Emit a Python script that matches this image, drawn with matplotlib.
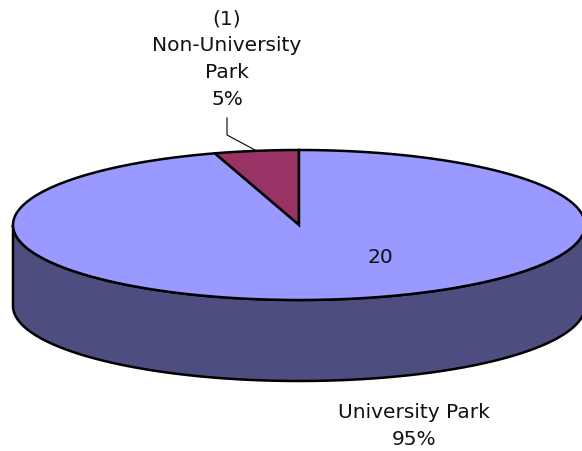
import numpy as np
import matplotlib.pyplot as plt
from matplotlib.patches import Polygon

# data
categories = ['University Park', 'Non-University Park']
values = [20, 1]
top_colors = ['#9999FF', '#993366']
side_colors = ['#4D4D80', '#4D1A33']

# geometry of the 3d pie (pixel space)
cx, cy = 299, 226
a, b = 286, 75
depth = 81

fig = plt.figure(figsize=(5.82, 4.52), dpi=100)
ax = fig.add_axes([0, 0, 1, 1])
ax.set_xlim(0, 582)
ax.set_ylim(452, 0)
ax.axis('off')

total = sum(values)
fracs = [v / total for v in values]

# slices go counterclockwise from 12 o'clock, Non-University first
order = [1, 0]
start = 90.0
spans = {}
for i in order:
    end = start + 360 * fracs[i]
    spans[i] = (start, end)
    start = end


def pt(t, dz=0):
    r = np.radians(t)
    return cx + a * np.cos(r), cy - b * np.sin(r) + dz


# front sides
for i in order:
    s, e = spans[i]
    for k in range(-1, 2):
        lo = max(s, 180 + 360 * k)
        hi = min(e, 360 + 360 * k)
        if hi <= lo:
            continue
        ts = np.linspace(lo, hi, 200)
        top = [pt(t) for t in ts]
        bot = [pt(t, depth) for t in ts[::-1]]
        ax.add_patch(Polygon(top + bot, closed=True, facecolor=side_colors[i],
                             edgecolor='black', lw=1.8, joinstyle='round'))

# top faces
for i in order:
    s, e = spans[i]
    ts = np.linspace(s, e, 400)
    pts = [(cx, cy)] + [pt(t) for t in ts]
    ax.add_patch(Polygon(pts, closed=True, facecolor=top_colors[i],
                         edgecolor='black', lw=1.8, joinstyle='miter'))

# labels
font = dict(fontsize=14.5, family='DejaVu Sans', color='#111111', ha='center', va='center')
pcts = ['%d%%' % round(f * 100) for f in fracs]
ax.text(380, 258, str(values[0]), **font)
ax.text(414, 426, categories[0] + '\n' + pcts[0], linespacing=1.52, **font)
ax.text(227, 59, '(%d)\n' % values[1] + 'Non-University\nPark\n' + pcts[1],
        linespacing=1.52, **font)

# leader line for the small slice
ax.plot([227, 227, 255], [119, 136, 151], color='black', lw=0.8)

fig.savefig('out.png', dpi=100)
